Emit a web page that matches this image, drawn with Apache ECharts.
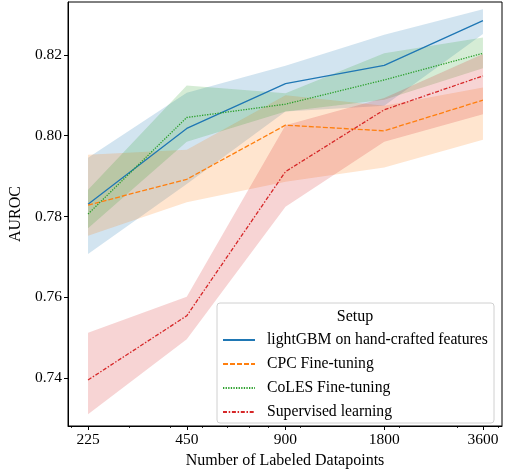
<!DOCTYPE html>
<html>
<head>
<meta charset="utf-8">
<script src="https://cdn.jsdelivr.net/npm/echarts@6/dist/echarts.min.js"></script>
<style>
  html, body { margin: 0; padding: 0; background: #fff; }
  #chart { width: 508px; height: 474px; }
</style>
</head>
<body>
<div id="chart"></div>
<script>
// x = number of labeled datapoints (drawn on a log2 axis)
const sizes = [225, 450, 900, 1800, 3600];
const minorSizes = [200, 300, 400, 500, 600, 700, 800, 1000, 2000, 3000, 4000];
const yTicks = [0.74, 0.76, 0.78, 0.80, 0.82];

const gbmMean = [0.7830, 0.8018, 0.8129, 0.8174, 0.8285];
const gbmLow = [0.7707, 0.7880, 0.8060, 0.8074, 0.8252];
const gbmHigh = [0.7945, 0.8106, 0.8173, 0.8250, 0.8313];

const cpcMean = [0.7828, 0.7892, 0.8026, 0.8012, 0.8088];
const cpcLow = [0.7752, 0.7835, 0.7886, 0.7921, 0.7990];
const cpcHigh = [0.7953, 0.7965, 0.8100, 0.8074, 0.8119];

const colesMean = [0.7806, 0.8045, 0.8078, 0.8138, 0.8204];
const colesLow = [0.7771, 0.7985, 0.8060, 0.8089, 0.8167];
const colesHigh = [0.7866, 0.8124, 0.8105, 0.8204, 0.8243];

const supMean = [0.7395, 0.7554, 0.7911, 0.8064, 0.8148];
const supLow = [0.7310, 0.7496, 0.7824, 0.7985, 0.8053];
const supHigh = [0.7512, 0.7601, 0.8026, 0.8093, 0.8202];

const FONT = "'Liberation Serif', 'DejaVu Serif', serif";
const lx = (n) => Math.log2(n / sizes[0]);

const setups = [
  { name: "lightGBM on hand-crafted features", color: "#1f77b4", mean: gbmMean, low: gbmLow, high: gbmHigh, type: "solid" },
  { name: "CPC Fine-tuning", color: "#ff7f0e", mean: cpcMean, low: cpcLow, high: cpcHigh, type: [5, 2] },
  { name: "CoLES Fine-tuning", color: "#2ca02c", mean: colesMean, low: colesLow, high: colesHigh, type: [1.3, 1.3] },
  { name: "Supervised learning", color: "#d62728", mean: supMean, low: supLow, high: supHigh, type: [4, 1.7, 1.5, 1.7] },
];

function hexToRgba(hex, a) {
  const v = parseInt(hex.slice(1), 16);
  return "rgba(" + (v >> 16) + "," + ((v >> 8) & 255) + "," + (v & 255) + "," + a + ")";
}

const series = [];
setups.forEach((s) => {
  const band = sizes.map((n, i) => [lx(n), s.low[i], s.high[i]]);
  series.push({
    type: "custom",
    silent: true,
    data: band,
    renderItem: (params, api) => {
      if (params.dataIndex !== 0) return;
      const pts = [];
      band.forEach((d) => pts.push(api.coord([d[0], d[2]])));
      for (let i = band.length - 1; i >= 0; i--) pts.push(api.coord([band[i][0], band[i][1]]));
      return {
        type: "polygon",
        shape: { points: pts },
        style: { fill: hexToRgba(s.color, 0.2) },
      };
    },
  });
  series.push({
    name: s.name,
    type: "line",
    data: sizes.map((n, i) => [lx(n), s.mean[i]]),
    symbol: "none",
    lineStyle: { color: s.color, width: 1.3, type: s.type },
    itemStyle: { color: s.color },
  });
});

const chart = echarts.init(document.getElementById("chart"));
chart.setOption({
  animation: false,
  textStyle: { fontFamily: FONT },
  grid: {
    left: 62, top: 2, right: 6, bottom: 48,
    show: true, borderColor: "#000", borderWidth: 1,
  },
  xAxis: [
    {
      type: "value",
      min: lx(195.5), max: lx(4115),
      name: "Number of Labeled Datapoints",
      nameLocation: "middle",
      nameGap: 26,
      nameTextStyle: { color: "#000", fontSize: 16, fontFamily: FONT },
      splitLine: { show: false },
      axisLine: { onZero: false, lineStyle: { color: "#000", width: 1 } },
      axisTick: { customValues: sizes.map(lx), length: 4, lineStyle: { color: "#000" } },
      axisLabel: {
        customValues: sizes.map(lx),
        formatter: (v) => String(sizes[Math.round(v)]),
        color: "#000", fontSize: 15.5, fontFamily: FONT, margin: 6,
      },
    },
    {
      type: "value",
      position: "bottom",
      min: lx(195.5), max: lx(4115),
      splitLine: { show: false },
      axisLine: { show: false, onZero: false },
      axisLabel: { show: false },
      axisTick: { customValues: minorSizes.map(lx), length: 2, lineStyle: { color: "#000", width: 0.8 } },
    },
  ],
  yAxis: {
    type: "value",
    min: 0.7281, max: 0.8331,
    name: "AUROC",
    nameLocation: "middle",
    nameGap: 32,
    nameTextStyle: { color: "#000", fontSize: 16, fontFamily: FONT },
    splitLine: { show: false },
    axisLine: { show: true, onZero: false, lineStyle: { color: "#000", width: 1 } },
    axisTick: { show: true, customValues: yTicks, length: 4, lineStyle: { color: "#000" } },
    axisLabel: {
      customValues: yTicks,
      formatter: (v) => v.toFixed(2),
      color: "#000", fontSize: 15.5, fontFamily: FONT, margin: 6,
    },
  },
  graphic: [
    {
      type: "rect",
      z: 50,
      shape: { x: 217, y: 303, width: 277, height: 120, r: 3 },
      style: { fill: "rgba(255,255,255,0.8)", stroke: "#d0d0d0", lineWidth: 1 },
    },
    {
      type: "text",
      z: 51,
      style: {
        x: 355, y: 317, text: "Setup", fill: "#000",
        font: "16px " + FONT, textAlign: "center", textVerticalAlign: "middle",
      },
    },
  ],
  legend: {
    orient: "vertical",
    left: 222, top: 332,
    padding: 0,
    z: 60,
    itemWidth: 32, itemHeight: 14, itemGap: 8,
    itemStyle: { opacity: 0 },
    textStyle: { color: "#000", fontSize: 15.7, fontFamily: FONT, padding: [0, 0, 0, 7] },
    data: setups.map((s) => s.name),
  },
  series: series,
});
</script>
</body>
</html>
